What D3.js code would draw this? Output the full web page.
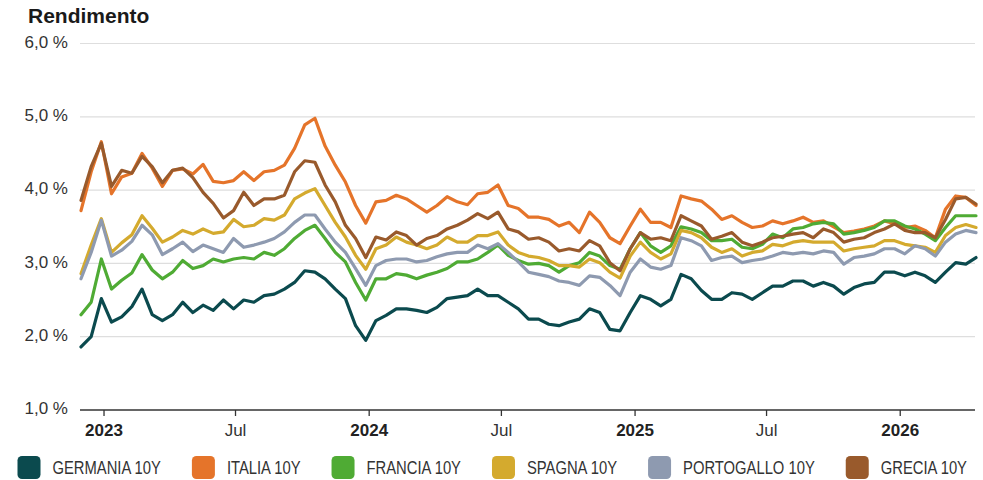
<!DOCTYPE html>
<html>
<head>
<meta charset="utf-8">
<script src="https://cdn.jsdelivr.net/npm/d3@7"></script>
<style>
    body { margin: 0; background: #fff; }
    svg { display: block; font-family: "Liberation Sans", Arial, sans-serif; }
    .title { font-weight: bold; font-size: 21px; fill: #1a1a1a; }
    .ylab { font-size: 17px; fill: #333; }
    .xlab { font-size: 17px; fill: #333; }
    .xlab.year { font-weight: bold; fill: #222; }
    .leg { font-size: 17.5px; fill: #333; }
</style>
</head>
<body>
<svg id="chart" width="983" height="480"></svg>
<script>
// date di campionamento (ogni 14 giorni)
var dates = [
    "2022-12-01","2022-12-15","2022-12-29","2023-01-12","2023-01-26","2023-02-09","2023-02-23","2023-03-09","2023-03-23","2023-04-06",
    "2023-04-20","2023-05-04","2023-05-18","2023-06-01","2023-06-15","2023-06-29","2023-07-13","2023-07-27","2023-08-10","2023-08-24",
    "2023-09-07","2023-09-21","2023-10-05","2023-10-19","2023-11-02","2023-11-16","2023-11-30","2023-12-14","2023-12-28","2024-01-11",
    "2024-01-25","2024-02-08","2024-02-22","2024-03-07","2024-03-21","2024-04-04","2024-04-18","2024-05-02","2024-05-16","2024-05-30",
    "2024-06-13","2024-06-27","2024-07-11","2024-07-25","2024-08-08","2024-08-22","2024-09-05","2024-09-19","2024-10-03","2024-10-17",
    "2024-10-31","2024-11-14","2024-11-28","2024-12-12","2024-12-26","2025-01-09","2025-01-23","2025-02-06","2025-02-20","2025-03-06",
    "2025-03-20","2025-04-03","2025-04-17","2025-05-01","2025-05-15","2025-05-29","2025-06-12","2025-06-26","2025-07-10","2025-07-24",
    "2025-08-07","2025-08-21","2025-09-04","2025-09-18","2025-10-02","2025-10-16","2025-10-30","2025-11-13","2025-11-27","2025-12-11",
    "2025-12-25","2026-01-08","2026-01-22","2026-02-05","2026-02-19","2026-03-05","2026-03-19","2026-04-02","2026-04-16"
];

var germania = [
    1.86,2.00,2.52,2.20,2.27,2.41,2.65,2.30,2.22,2.30,
    2.47,2.33,2.43,2.36,2.50,2.38,2.50,2.47,2.56,2.58,
    2.65,2.74,2.90,2.88,2.79,2.65,2.52,2.15,1.95,2.22,
    2.29,2.38,2.38,2.36,2.33,2.40,2.52,2.54,2.56,2.65,
    2.56,2.56,2.47,2.38,2.24,2.24,2.17,2.15,2.20,2.24,
    2.38,2.33,2.10,2.08,2.33,2.56,2.51,2.42,2.51,2.85,
    2.79,2.63,2.51,2.51,2.60,2.58,2.51,2.60,2.69,2.69,
    2.76,2.76,2.69,2.74,2.69,2.58,2.67,2.72,2.74,2.88,
    2.88,2.83,2.88,2.83,2.74,2.88,3.01,2.99,3.08
];
var italia = [
    3.72,4.25,4.66,3.95,4.18,4.23,4.50,4.30,4.05,4.27,
    4.29,4.22,4.35,4.12,4.10,4.13,4.25,4.13,4.25,4.27,
    4.34,4.57,4.89,4.98,4.60,4.34,4.11,3.79,3.55,3.84,
    3.86,3.93,3.88,3.79,3.70,3.79,3.91,3.84,3.80,3.95,
    3.97,4.07,3.79,3.75,3.63,3.63,3.60,3.51,3.56,3.42,
    3.70,3.56,3.35,3.27,3.51,3.74,3.56,3.56,3.49,3.92,
    3.88,3.85,3.74,3.60,3.65,3.56,3.49,3.51,3.58,3.54,
    3.58,3.63,3.56,3.58,3.50,3.42,3.44,3.47,3.51,3.58,
    3.54,3.49,3.51,3.45,3.35,3.74,3.92,3.90,3.79
];
var francia = [
    2.30,2.47,3.06,2.65,2.77,2.87,3.12,2.91,2.79,2.88,
    3.04,2.93,2.97,3.06,3.02,3.06,3.08,3.06,3.15,3.11,
    3.20,3.34,3.45,3.52,3.34,3.15,3.02,2.74,2.50,2.79,
    2.79,2.86,2.84,2.79,2.84,2.88,2.93,3.02,3.02,3.06,
    3.15,3.25,3.11,3.04,2.99,3.00,2.97,2.88,2.97,3.01,
    3.15,3.10,2.97,2.92,3.20,3.42,3.24,3.15,3.24,3.50,
    3.47,3.42,3.31,3.31,3.33,3.22,3.20,3.26,3.40,3.35,
    3.47,3.49,3.54,3.56,3.54,3.40,3.42,3.45,3.49,3.58,
    3.58,3.51,3.47,3.40,3.31,3.49,3.65,3.65,3.65
];
var spagna = [
    2.86,3.25,3.61,3.15,3.28,3.39,3.65,3.48,3.29,3.36,
    3.45,3.40,3.47,3.41,3.43,3.60,3.50,3.52,3.61,3.59,
    3.66,3.88,3.96,4.02,3.79,3.56,3.36,3.11,2.92,3.20,
    3.25,3.36,3.29,3.25,3.20,3.25,3.36,3.29,3.29,3.38,
    3.38,3.43,3.25,3.15,3.10,3.08,3.04,2.97,2.97,2.95,
    3.06,3.01,2.88,2.80,3.10,3.29,3.15,3.06,3.13,3.45,
    3.42,3.35,3.22,3.15,3.20,3.10,3.15,3.17,3.26,3.24,
    3.29,3.31,3.29,3.29,3.29,3.17,3.20,3.22,3.24,3.31,
    3.31,3.26,3.24,3.22,3.15,3.38,3.49,3.53,3.49
];
var portogallo = [
    2.79,3.15,3.59,3.10,3.18,3.30,3.52,3.39,3.12,3.20,
    3.29,3.16,3.25,3.20,3.15,3.34,3.22,3.25,3.29,3.34,
    3.43,3.56,3.66,3.66,3.47,3.29,3.15,2.93,2.70,2.97,
    3.04,3.06,3.06,3.02,3.04,3.09,3.13,3.15,3.15,3.25,
    3.20,3.27,3.15,3.02,2.88,2.85,2.82,2.76,2.74,2.70,
    2.83,2.81,2.70,2.56,2.88,3.06,2.95,2.92,2.97,3.35,
    3.31,3.24,3.04,3.08,3.10,3.01,3.04,3.06,3.10,3.15,
    3.13,3.15,3.13,3.17,3.15,2.99,3.08,3.10,3.13,3.20,
    3.20,3.13,3.24,3.20,3.10,3.29,3.40,3.45,3.42
];
var grecia = [
    3.86,4.32,4.64,4.05,4.27,4.23,4.46,4.32,4.10,4.27,
    4.30,4.17,3.97,3.82,3.62,3.72,3.97,3.79,3.88,3.88,
    3.93,4.25,4.40,4.38,4.07,3.84,3.52,3.34,3.08,3.36,
    3.32,3.43,3.38,3.25,3.34,3.38,3.47,3.52,3.59,3.68,
    3.61,3.70,3.47,3.43,3.33,3.35,3.29,3.17,3.20,3.17,
    3.31,3.24,3.01,2.90,3.20,3.42,3.33,3.35,3.31,3.65,
    3.58,3.51,3.33,3.37,3.42,3.29,3.24,3.29,3.35,3.37,
    3.40,3.42,3.35,3.47,3.42,3.29,3.33,3.35,3.42,3.47,
    3.54,3.45,3.42,3.42,3.35,3.60,3.88,3.90,3.81
];

var seriesNames  = ["GERMANIA 10Y", "ITALIA 10Y", "FRANCIA 10Y", "SPAGNA 10Y", "PORTOGALLO 10Y", "GRECIA 10Y"];
var seriesValues = [germania, italia, francia, spagna, portogallo, grecia];
var seriesColors = ["#0b4a4e", "#e5742a", "#4fab34", "#d4aa2e", "#8e9ab0", "#995a2c"];

var yTicks = [1, 2, 3, 4, 5, 6];
var xTicks = ["2023-01-01","2023-07-01","2024-01-01","2024-07-01","2025-01-01","2025-07-01","2026-01-01"];

var parse = d3.timeParse("%Y-%m-%d");
var when = dates.map(parse);

var svg = d3.select("#chart");

var x = d3.scaleTime()
    .domain(d3.extent(when))
    .range([81, 976]);

var y = d3.scaleLinear()
    .domain([1, 6])
    .range([410, 43.5]);

var fmtY = function(v) { return d3.format(".1f")(v).replace(".", ",") + " %"; };

// titolo
svg.append("text")
    .attr("class", "title")
    .attr("x", 28)
    .attr("y", 23)
    .text("Rendimento");

// griglia orizzontale
var grid = svg.append("g").attr("class", "grid");
grid.selectAll("line")
    .data(yTicks.filter(function(d) { return d > 1; }))
    .enter().append("line")
        .attr("x1", 80)
        .attr("x2", 975)
        .attr("y1", function(d) { return y(d); })
        .attr("y2", function(d) { return y(d); })
        .attr("stroke", "#dedede")
        .attr("stroke-width", 1.2);

svg.append("g").selectAll("text")
    .data(yTicks)
    .enter().append("text")
        .attr("class", "ylab")
        .attr("x", 68)
        .attr("y", function(d) { return y(d) - 1.5; })
        .attr("dy", "0.34em")
        .attr("text-anchor", "end")
        .text(fmtY);

// linee
var line = d3.line()
    .x(function(d, i) { return x(when[i]); })
    .y(function(d) { return y(d); });

svg.append("g").attr("class", "lines")
    .selectAll("path")
    .data(seriesValues)
    .enter().append("path")
        .attr("d", line)
        .attr("fill", "none")
        .attr("stroke", function(d, i) { return seriesColors[i]; })
        .attr("stroke-width", 3.2)
        .attr("stroke-linejoin", "round")
        .attr("stroke-linecap", "round");

// asse x
var xAxis = d3.axisBottom(x)
    .tickValues(xTicks.map(parse))
    .tickSize(6)
    .tickPadding(8)
    .tickFormat(function(d) { return d.getMonth() === 0 ? d3.timeFormat("%Y")(d) : "Jul"; });

var gx = svg.append("g")
    .attr("transform", "translate(0,410)")
    .call(xAxis);

gx.select(".domain")
    .attr("d", "M80,0H975")
    .attr("stroke", "#333")
    .attr("stroke-width", 1.6);
gx.selectAll(".tick line").attr("stroke", "#333").attr("stroke-width", 1.3);
gx.selectAll(".tick text")
    .attr("class", function(d) { return d.getMonth() === 0 ? "xlab year" : "xlab"; })
    .attr("font-family", null)
    .attr("font-size", null)
    .attr("fill", null);

// legenda (testo stretto: nessun font narrow installato, si comprime in orizzontale)
var narrow = 0.845;
var leg = svg.append("g").attr("class", "legend");
var lx = 17.5;
seriesNames.forEach(function(name, i) {
    var item = leg.append("g").attr("transform", "translate(" + lx + ",456)");
    item.append("rect")
        .attr("width", 23)
        .attr("height", 23)
        .attr("rx", 4.5)
        .attr("fill", seriesColors[i]);
    var t = item.append("text")
        .attr("class", "leg")
        .attr("transform", "translate(35,17.5) scale(" + narrow + ",1)")
        .text(name);
    lx += 35 + t.node().getComputedTextLength() * narrow + 31;
});
</script>
</body>
</html>
